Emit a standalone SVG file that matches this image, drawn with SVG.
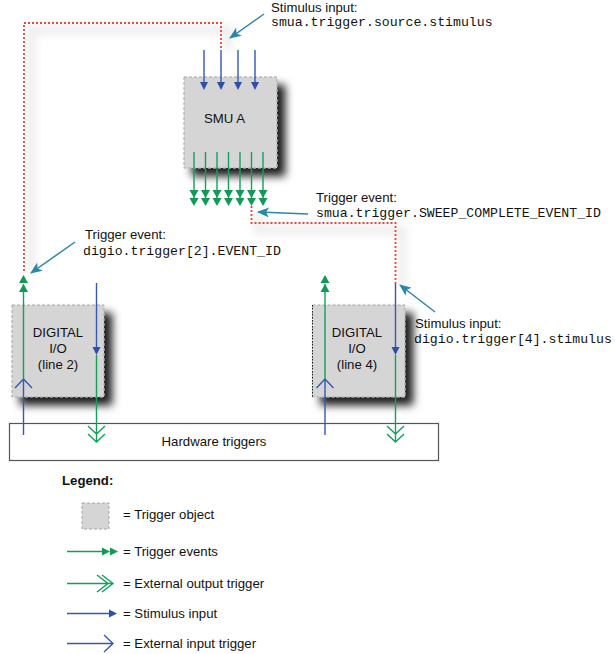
<svg xmlns="http://www.w3.org/2000/svg" width="615" height="654" viewBox="0 0 615 654">
<style>
.sans{font-family:"Liberation Sans",Arial,sans-serif;font-size:13.2px;fill:#111}
.mono{font-family:"Liberation Mono","Courier New",monospace;font-size:13.2px;fill:#111}
.box{fill:#d5d5d5;stroke:#a6a6a6;stroke-width:1;stroke-dasharray:3 2}
.grn{stroke:#14a05c;stroke-width:1.4;fill:none}
.grnf{fill:#0f9a56;stroke:none}
.blu{stroke:#3558b0;stroke-width:1.4;fill:none}
.bluf{fill:#2d4fa8;stroke:none}
.red{stroke:#e8473c;stroke-width:1.8;fill:none;stroke-dasharray:2 2}
.teal{stroke:#2a87a8;stroke-width:1.5;fill:none}
.glow{stroke:#000;stroke-opacity:0.07;stroke-width:9;fill:none}
</style>
<defs>
<filter id="sh" x="-20%" y="-20%" width="160%" height="160%">
<feDropShadow dx="8" dy="8" stdDeviation="4" flood-color="#000" flood-opacity="0.88"/>
</filter>
<filter id="soft" x="-10%" y="-10%" width="120%" height="120%">
<feGaussianBlur stdDeviation="4"/>
</filter>
<marker id="tealhead" viewBox="0 0 12 10" refX="11" refY="5" markerWidth="12" markerHeight="10" markerUnits="userSpaceOnUse" orient="auto">
<path d="M0,0 L12,5 L0,10 L3,5 z" fill="#2a87a8"/>
</marker>
</defs>
<rect width="615" height="654" fill="#fff"/>

<!-- soft glow along dotted paths -->
<g filter="url(#soft)">
<path class="glow" d="M31 272 V30 H228 V50"/>
<path class="glow" d="M258 213 V230 H402 V285"/>
</g>

<g id="smu-a">
<rect class="box" x="184" y="77" width="93" height="91" filter="url(#sh)"/>
<text class="sans" x="204" y="123">SMU A</text>
</g>

<g id="dio-2">
<rect class="box" x="12" y="305" width="92" height="92" filter="url(#sh)"/>
<text class="sans" x="58" y="337" text-anchor="middle">DIGITAL</text>
<text class="sans" x="58" y="353" text-anchor="middle">I/O</text>
<text class="sans" x="58" y="369" text-anchor="middle">(line 2)</text>
</g>

<g id="dio-4">
<rect class="box" x="312.5" y="305" width="92.5" height="92" filter="url(#sh)"/>
<path d="M312.5 305 V397" stroke="#222" stroke-width="1" stroke-dasharray="1.5 1.5"/>
<text class="sans" x="357" y="337" text-anchor="middle">DIGITAL</text>
<text class="sans" x="357" y="353" text-anchor="middle">I/O</text>
<text class="sans" x="357" y="369" text-anchor="middle">(line 4)</text>
</g>

<g id="hardware-triggers">
<rect x="9.5" y="423.5" width="429" height="37" fill="#fff" stroke="#555" stroke-width="1.2"/>
<text class="sans" x="214" y="446" text-anchor="middle">Hardware triggers</text>
</g>

<g id="connectors">
<!-- red dotted event routes -->
<path class="red" d="M24 271 V23 H221 V50"/>
<path class="red" d="M251.5 206 V223 H395.5 V283"/>

<!-- stimulus inputs into SMU A -->
<path class="blu" d="M204 50 V84 M221 50 V84 M238 50 V84 M255 50 V84"/>
<path class="bluf" d="M200 82 H208 L204 90 z M217 82 H225 L221 90 z M234 82 H242 L238 90 z M251 82 H259 L255 90 z"/>

<!-- trigger events out of SMU A -->
<path class="grn" d="M194 152 V200 M205.5 152 V200 M217 152 V200 M228.5 152 V200 M240 152 V200 M251.5 152 V200 M263 152 V200"/>
<g class="grnf">
<path d="M189.5 190 H198.5 L194 198 z M189.5 198 H198.5 L194 206 z"/>
<path d="M201 190 H210 L205.5 198 z M201 198 H210 L205.5 206 z"/>
<path d="M212.5 190 H221.5 L217 198 z M212.5 198 H221.5 L217 206 z"/>
<path d="M224 190 H233 L228.5 198 z M224 198 H233 L228.5 206 z"/>
<path d="M235.5 190 H244.5 L240 198 z M235.5 198 H244.5 L240 206 z"/>
<path d="M247 190 H256 L251.5 198 z M247 198 H256 L251.5 206 z"/>
<path d="M258.5 190 H267.5 L263 198 z M258.5 198 H267.5 L263 206 z"/>
</g>

<!-- DIO line 2: external input up, trigger event out -->
<path class="blu" d="M23.5 435 V379 M15 388 L23.5 379 L32 388"/>
<path class="grn" d="M23.5 379 V284"/>
<path class="grnf" d="M19 283 H28 L23.5 275 z M19 292 H28 L23.5 284 z"/>
<!-- DIO line 2: stimulus in, external output down -->
<path class="blu" d="M96.5 283 V349"/>
<path class="bluf" d="M92.5 347 H100.5 L96.5 355 z"/>
<path class="grn" d="M96.5 355 V442 M88 426 L96.5 434 L105 426 M88 434 L96.5 442 L105 434"/>

<!-- DIO line 4 -->
<path class="blu" d="M325 435 V379 M316.5 388 L325 379 L333.5 388"/>
<path class="grn" d="M325 379 V284"/>
<path class="grnf" d="M320.5 283 H329.5 L325 275 z M320.5 292 H329.5 L325 284 z"/>
<path class="blu" d="M395.5 283 V349"/>
<path class="bluf" d="M391.5 347 H399.5 L395.5 355 z"/>
<path class="grn" d="M395.5 355 V442 M387 426 L395.5 434 L404 426 M387 434 L395.5 442 L404 434"/>

<!-- callout arrows -->
<path class="teal" d="M264 14 L230 38" marker-end="url(#tealhead)"/>
<path class="teal" d="M308 214 L258 212" marker-end="url(#tealhead)"/>
<path class="teal" d="M75 242 L31 273" marker-end="url(#tealhead)"/>
<path class="teal" d="M435 312 L400 285" marker-end="url(#tealhead)"/>
</g>

<g id="labels">
<text class="sans" x="271" y="12">Stimulus input:</text>
<text class="mono" x="271" y="26">smua.trigger.source.stimulus</text>
<text class="sans" x="316" y="202">Trigger event:</text>
<text class="mono" x="316" y="217">smua.trigger.SWEEP_COMPLETE_EVENT_ID</text>
<text class="sans" x="85" y="239">Trigger event:</text>
<text class="mono" x="83" y="255">digio.trigger[2].EVENT_ID</text>
<text class="sans" x="415" y="328">Stimulus input:</text>
<text class="mono" x="414" y="343">digio.trigger[4].stimulus</text>
</g>

<g id="legend">
<text class="sans" x="62" y="485" font-weight="bold">Legend:</text>
<rect class="box" x="82" y="503" width="27" height="26"/>
<text class="sans" x="123" y="519">= Trigger object</text>
<path class="grn" d="M67 551.5 H104"/>
<path class="grnf" d="M102 547.5 L110 551.5 L102 555.5 z M110 547.5 L118 551.5 L110 555.5 z"/>
<text class="sans" x="123" y="556">= Trigger events</text>
<path class="grn" d="M67 583.5 H112 M97 575 L108 583.5 L97 592 M102 575 L113 583.5 L102 592"/>
<text class="sans" x="123" y="588">= External output trigger</text>
<path class="blu" d="M67 613.5 H111"/>
<path class="bluf" d="M109 609.5 L117 613.5 L109 617.5 z"/>
<text class="sans" x="123" y="618">= Stimulus input</text>
<path class="blu" d="M67 643.5 H113 M104 635 L113 643.5 L104 652"/>
<text class="sans" x="123" y="648">= External input trigger</text>
</g>
</svg>
